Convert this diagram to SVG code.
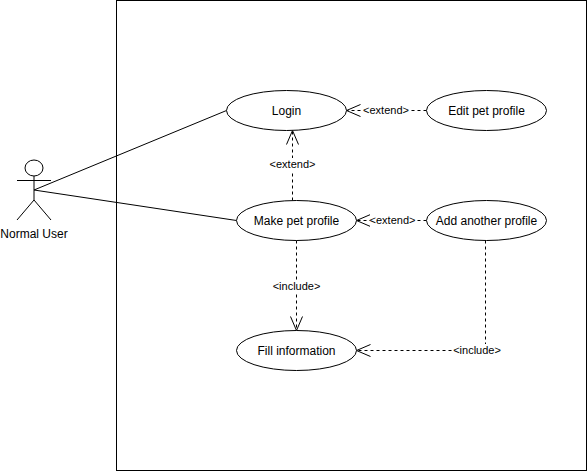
<svg xmlns="http://www.w3.org/2000/svg" width="587" height="471" viewBox="0 0 587 471">
<style>
.s{fill:#fff;stroke:#000;stroke-width:1}
.l{fill:none;stroke:#000;stroke-width:1}
.d{fill:none;stroke:#000;stroke-width:1;stroke-dasharray:3 3}
.t{font-family:"Liberation Sans",Arial,sans-serif;font-size:12px;fill:#000;text-anchor:middle}
.e{font-family:"Liberation Sans",Arial,sans-serif;font-size:11px;fill:#000;text-anchor:middle}
.b{fill:#fff;stroke:none}
</style>
<defs>
<marker id="open" markerUnits="userSpaceOnUse" viewBox="0 0 16 14" refX="15" refY="7" markerWidth="16" markerHeight="14" orient="auto">
<path d="M1 1 L15 7 L1 13" fill="none" stroke="#000" stroke-width="1"/>
</marker>
</defs>
<rect x="116.500" y="0.500" width="470" height="470" fill="#fff" stroke="#000"/>
<g id="connectors">
<path class="l" d="M34 190 L226.500 110.500"/>
<path class="l" d="M34 190 L236.500 220.500"/>
<path class="d" d="M426.500 110.500 L346.500 110.500" marker-end="url(#open)"/>
<path class="d" d="M292.500 200.500 L292.500 130.500" marker-end="url(#open)"/>
<path class="d" d="M426.500 220.500 L356.500 220.500" marker-end="url(#open)"/>
<path class="d" d="M296.500 240.500 L296.500 330.500" marker-end="url(#open)"/>
<path class="d" d="M485.500 240.500 L485.500 350.500 L356.500 350.500" marker-end="url(#open)"/>
<rect class="b" x="363" y="104" width="46" height="13"/>
<text class="e" x="386" y="114">&lt;extend&gt;</text>
<rect class="b" x="269" y="158" width="47" height="13"/>
<text class="e" x="292.500" y="168">&lt;extend&gt;</text>
<rect class="b" x="370" y="214" width="46" height="13"/>
<text class="e" x="392.500" y="224">&lt;extend&gt;</text>
<rect class="b" x="273" y="280" width="47" height="13"/>
<text class="e" x="296.500" y="290">&lt;include&gt;</text>
<rect class="b" x="454" y="344" width="46" height="13"/>
<text class="e" x="477" y="354">&lt;include&gt;</text>
</g>
<g id="actor">
<ellipse class="l" cx="34" cy="168" rx="9" ry="8"/>
<path class="l" d="M34 176 V200 M17 180.500 H51 M34 200 L17 220 M34 200 L51 220"/>
<text class="t" x="34" y="238">Normal User</text>
</g>
<g id="login"><ellipse class="s" cx="286.500" cy="110.500" rx="60" ry="20"/><text class="t" x="286.500" y="115">Login</text></g>
<g id="edit"><ellipse class="s" cx="486.500" cy="110.500" rx="60" ry="20"/><text class="t" x="486.500" y="115">Edit pet profile</text></g>
<g id="make"><ellipse class="s" cx="296.500" cy="220.500" rx="60" ry="20"/><text class="t" x="296.500" y="225">Make pet profile</text></g>
<g id="add"><ellipse class="s" cx="486.500" cy="220.500" rx="60" ry="20"/><text class="t" x="486.500" y="225">Add another profile</text></g>
<g id="fill"><ellipse class="s" cx="296.500" cy="350.500" rx="60" ry="20"/><text class="t" x="296.500" y="355">Fill information</text></g>
</svg>
